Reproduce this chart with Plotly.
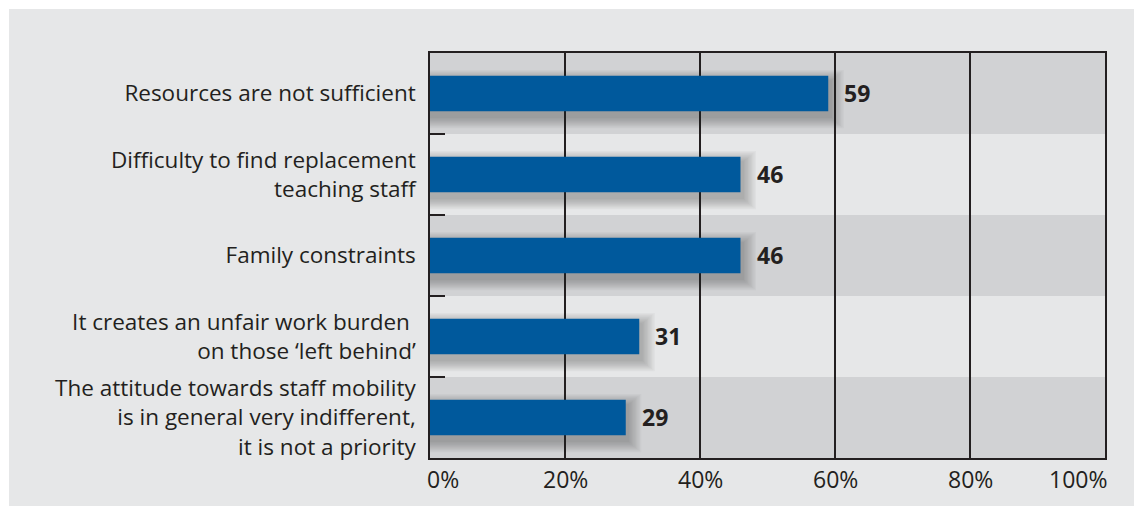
import plotly.graph_objects as go

# Survey results: obstacles to staff mobility (% of respondents)
categories = [
    "Resources are not sufficient",
    "Difficulty to find replacement<br>teaching staff",
    "Family constraints",
    "It creates an unfair work burden\u00a0<br>on those \u2018left behind\u2019",
    "The attitude towards staff mobility<br>is in general very indifferent,<br>it is not a priority",
]
values = [59, 46, 46, 31, 29]
x_ticks = [0, 20, 40, 60, 80, 100]
x_tick_labels = ["0%", "20%", "40%", "60%", "80%", "100%"]

BAR_BLUE = "#00599c"
DARK_BAND = "#d1d2d4"
LIGHT_BG = "#e6e7e8"
INK = "#231f20"
FONT = "Open Sans"
FS_CAT = 22.5
FS_TICK = 23
FS_VAL = 23

BAR_W = 0.44
fig = go.Figure()

# soft drop shadow beneath each bar, built from stacked translucent layers
for k in range(1, 11):
    grow = 0.014 * k
    fig.add_trace(go.Bar(
        y=categories,
        x=[v + 0.3 + 0.2 * k for v in values],
        base=0,
        orientation="h",
        width=BAR_W + 2 * grow,
        offset=-BAR_W / 2 + 0.07 - grow,
        marker=dict(color="rgba(40,40,40,0.032)", line=dict(width=0)),
        hoverinfo="skip",
        showlegend=False,
    ))

# main bars
fig.add_trace(go.Bar(
    y=categories,
    x=values,
    orientation="h",
    width=BAR_W,
    offset=-BAR_W / 2,
    marker=dict(color=BAR_BLUE, line=dict(width=0)),
    hoverinfo="skip",
    showlegend=False,
))

# alternating horizontal bands
shapes = []
for i in range(len(categories)):
    if i % 2 == 0:
        shapes.append(dict(
            type="rect", xref="paper", yref="y",
            x0=0, x1=1, y0=i - 0.5, y1=i + 0.5,
            fillcolor=DARK_BAND, line=dict(width=0), layer="below",
        ))

# white page margin on the top and left of the grey panel
L, T, W, H = 430, 53, 675, 405
shapes.append(dict(type="rect", xref="paper", yref="paper",
                   x0=-L / W - 0.01, x1=(9 - L) / W, y0=-0.3, y1=1.3,
                   fillcolor="white", line=dict(width=0), layer="below"))
shapes.append(dict(type="rect", xref="paper", yref="paper",
                   x0=-L / W - 0.01, x1=1.2, y0=(H + T - 9) / H, y1=1.3,
                   fillcolor="white", line=dict(width=0), layer="below"))

annotations = []
# value labels at bar ends
for cat, v in zip(categories, values):
    annotations.append(dict(
        x=v, y=cat, xref="x", yref="y", text=f"<b>{v}</b>",
        showarrow=False, xanchor="left", yanchor="middle", xshift=14, yshift=1,
        font=dict(family=FONT, size=FS_VAL, color=INK),
    ))
# x tick labels
for t, lab in zip(x_ticks, x_tick_labels):
    anchor = "left" if t == x_ticks[0] else ("right" if t == x_ticks[-1] else "center")
    shift = -5 if t == x_ticks[0] else (4 if t == x_ticks[-1] else 0)
    annotations.append(dict(
        x=t, y=0, xref="x", yref="paper", text=lab, showarrow=False,
        xanchor=anchor, yanchor="top", yshift=-3, xshift=shift,
        font=dict(family=FONT, size=FS_TICK, color=INK),
    ))

fig.update_layout(
    width=1134, height=506,
    margin=dict(l=L, r=1134 - L - W, t=T, b=506 - T - H),
    paper_bgcolor=LIGHT_BG,
    plot_bgcolor=LIGHT_BG,
    barmode="overlay",
    shapes=shapes,
    annotations=annotations,
    font=dict(family=FONT, size=FS_CAT, color=INK),
    xaxis=dict(
        range=[0, 100], tickvals=x_ticks, showticklabels=False,
        showgrid=True, gridcolor=INK, gridwidth=1.5,
        showline=True, linecolor=INK, linewidth=1.5, mirror=True,
        zeroline=False, ticks="",
    ),
    yaxis=dict(
        autorange="reversed", type="category",
        showgrid=False, showline=True, linecolor=INK, linewidth=1.5, mirror=True,
        ticks="inside", ticklen=15, tickwidth=1.5, tickcolor=INK,
        tickson="boundaries", ticklabelstandoff=8,
        tickfont=dict(family=FONT, size=FS_CAT, color=INK),
    ),
)

fig.write_html("out.html")
